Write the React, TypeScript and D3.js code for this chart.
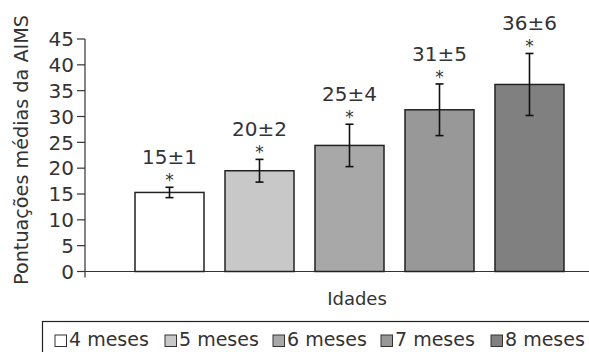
import React from 'react';
import * as d3 from 'd3';

const ages = ['4 meses', '5 meses', '6 meses', '7 meses', '8 meses'];
const means = [15.3, 19.5, 24.4, 31.3, 36.2];
const errors = [1.0, 2.2, 4.1, 5.0, 6.0];
const labels = ['15±1', '20±2', '25±4', '31±5', '36±6'];
const yTicks = [0, 5, 10, 15, 20, 25, 30, 35, 40, 45];
const fills = ['#ffffff', '#c8c8c8', '#a8a8a8', '#989898', '#808080'];

const W = 589;
const H = 352;
const FONT = '"DejaVu Sans", sans-serif';

export default function App() {
  const y = d3.scaleLinear().domain([0, 45]).range([271.5, 39]);
  const x = d3.scaleBand<string>()
    .domain(ages)
    .range([124.5, 574.5])
    .paddingInner(0.2333)
    .paddingOuter(0.1167);

  const axisX = 85;
  const legendX = [55, 165, 273, 381, 491];

  return (
    <div style={{ position: 'absolute', left: 0, top: 0 }}>
      <svg width={W} height={H} style={{ display: 'block' }} fontFamily={FONT}>
        <rect width={W} height={H} fill="#fff" />

        {/* y axis */}
        <line x1={axisX} x2={axisX} y1={y(45)} y2={y(0) + 6} stroke="#333" strokeWidth={1.2} />
        {yTicks.map(t => (
          <g key={t}>
            <line x1={axisX - 8} x2={axisX} y1={y(t)} y2={y(t)} stroke="#333" strokeWidth={1.2} />
            <text x={axisX - 11} y={y(t)} dy="0.36em" textAnchor="end" fontSize={20} fill="#333">{t}</text>
          </g>
        ))}
        {/* x axis */}
        <line x1={axisX} x2={W} y1={y(0)} y2={y(0)} stroke="#333" strokeWidth={1.2} />

        <text
          transform={`translate(28,${150}) rotate(-90)`}
          textAnchor="middle"
          fontSize={19.2}
          fill="#333"
        >Pontuações médias da AIMS</text>

        <text x={357} y={305} textAnchor="middle" fontSize={18} fill="#333">Idades</text>

        {/* bars */}
        {ages.map((a, i) => {
          const x0 = x(a) as number;
          const cx = x0 + x.bandwidth() / 2;
          const top = y(means[i] + errors[i]);
          const bottom = y(means[i] - errors[i]);
          return (
            <g key={a}>
              <rect x={x0} y={y(means[i])} width={x.bandwidth()} height={y(0) - y(means[i])}
                fill={fills[i]} stroke="#222" strokeWidth={1.5} />
              <line x1={cx} x2={cx} y1={top} y2={bottom} stroke="#111" strokeWidth={1.6} />
              <line x1={cx - 4} x2={cx + 4} y1={top} y2={top} stroke="#111" strokeWidth={1.6} />
              <line x1={cx - 4} x2={cx + 4} y1={bottom} y2={bottom} stroke="#111" strokeWidth={1.6} />
              <text x={cx} y={top - 1} textAnchor="middle" fontSize={17} fill="#333">*</text>
              <text x={cx} y={top - 23} textAnchor="middle" fontSize={20} fill="#333">{labels[i]}</text>
            </g>
          );
        })}

        {/* legend */}
        <rect x={42.5} y={321.5} width={W} height={40} fill="none" stroke="#222" strokeWidth={1.2} />
        {ages.map((a, i) => (
          <g key={a}>
            <rect x={legendX[i]} y={335} width={11.5} height={11.5} fill={fills[i]} stroke="#333" strokeWidth={1} />
            <text x={legendX[i] + 14} y={346} fontSize={19} fill="#333">{a}</text>
          </g>
        ))}
      </svg>
    </div>
  );
}
